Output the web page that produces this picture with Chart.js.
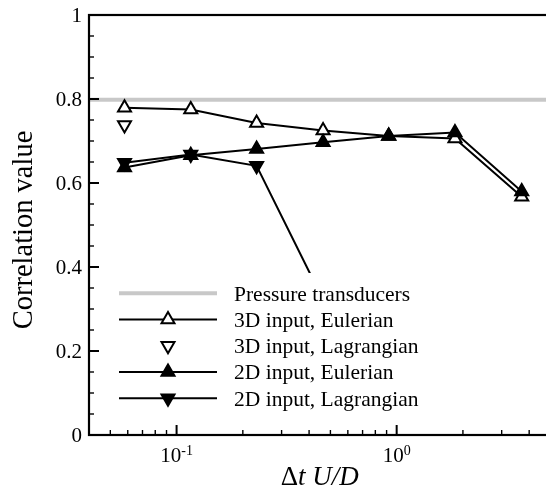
<!DOCTYPE html>
<html>
<head>
<meta charset="utf-8">
<script src="https://cdn.jsdelivr.net/npm/chart.js@4/dist/chart.umd.min.js"></script>
<style>
  html, body { margin: 0; padding: 0; overflow: hidden; background: #fff; width: 546px; height: 489px; }
  canvas { display: block; }
</style>
</head>
<body>
<canvas id="corr" width="560" height="489"></canvas>
<script>
// Time separation of the two snapshots, normalised
const dtU = [0.058, 0.116, 0.231, 0.463, 0.92, 1.84, 3.7];

// Correlation values per reconstruction
const eulerian3D   = [0.779, 0.775, 0.743, 0.725, 0.712, 0.706, 0.567];
const lagrangian3D = [0.738];
const eulerian2D   = [0.637, 0.666, 0.681, 0.697, 0.712, 0.720, 0.580];
const lagrangian2D = [0.648, 0.668, 0.641, 0.322];

// Reference level from the wall pressure transducers
const transducerLevel = 0.798;

// Axis ranges and ticks
const xRange = [0.04, 5];
const yRange = [0, 1];
const yMajorTicks = [0, 0.2, 0.4, 0.6, 0.8, 1];
const yTickLabels = ['0', '0.2', '0.4', '0.6', '0.8', '1'];
const yMinorTicks = [0.05, 0.1, 0.15, 0.25, 0.3, 0.35, 0.45, 0.5, 0.55, 0.65, 0.7, 0.75, 0.85, 0.9, 0.95];
const xMajorTicks = [0.1, 1];
const xTickExponents = ['-1', '0'];
const xMinorTicks = [0.05, 0.06, 0.07, 0.08, 0.09, 0.2, 0.3, 0.4, 0.5, 0.6, 0.7, 0.8, 0.9, 2, 3, 4];

const seriesNames = [
  'Pressure transducers',
  '3D input, Eulerian',
  '3D input, Lagrangian',
  '2D input, Eulerian',
  '2D input, Lagrangian'
];
const xTitleUpright = 'Δ';
const xTitleItalic = 't U/D';
const yTitle = 'Correlation value';

const SERIF = '"Liberation Serif", "Times New Roman", serif';
const GREY = '#c8c8c8';
const MARKER_R = 7.5;

const toPoints = (vals) => vals.map((v, i) => ({ x: dtU[i], y: v }));

// Marker styles shared by the plot and the key
const markers = [
  null,
  { rotation: 0,   fill: '#ffffff' },
  { rotation: 180, fill: '#ffffff' },
  { rotation: 0,   fill: '#000000' },
  { rotation: 180, fill: '#000000' }
];

function markerDataset(label, values, mk, order, showLine) {
  return {
    label,
    data: toPoints(values),
    showLine,
    borderColor: '#000',
    borderWidth: 2,
    tension: 0,
    pointStyle: 'triangle',
    pointRotation: mk.rotation,
    pointRadius: MARKER_R,
    pointHoverRadius: MARKER_R,
    pointBackgroundColor: mk.fill,
    pointBorderColor: '#000',
    pointBorderWidth: 2,
    order
  };
}

function triangle(ctx, x, y, r, rotationDeg) {
  let rad = rotationDeg * Math.PI / 180;
  ctx.beginPath();
  for (let k = 0; k < 3; k++) {
    const px = x + Math.sin(rad) * r;
    const py = y - Math.cos(rad) * r;
    if (k === 0) ctx.moveTo(px, py); else ctx.lineTo(px, py);
    rad += 2 * Math.PI / 3;
  }
  ctx.closePath();
}

function tick(ctx, x1, y1, x2, y2, w) {
  ctx.lineWidth = w;
  ctx.beginPath();
  ctx.moveTo(x1, y1);
  ctx.lineTo(x2, y2);
  ctx.stroke();
}

// Key drawn inside the plot on a white panel
const keyPanel = {
  id: 'keyPanel',
  afterDatasetsDraw(chart) {
    const ctx = chart.ctx;
    const a = chart.chartArea;
    ctx.save();
    ctx.fillStyle = '#fff';
    ctx.fillRect(a.left + 22, a.top + 258, 312, 142);
    const x0 = a.left + 30, x1 = a.left + 128, xm = a.left + 79, xt = a.left + 145;
    seriesNames.forEach((name, i) => {
      const y = a.top + 278.3 + i * 26.25;
      if (i === 0) {
        ctx.strokeStyle = GREY;
        tick(ctx, x0, y, x1, y, 4);
      } else if (i !== 2) {
        ctx.strokeStyle = '#000';
        tick(ctx, x0, y, x1, y, 2);
      }
      const mk = markers[i];
      if (mk) {
        ctx.fillStyle = mk.fill;
        ctx.strokeStyle = '#000';
        ctx.lineWidth = 2;
        triangle(ctx, xm, y, MARKER_R, mk.rotation);
        ctx.fill();
        ctx.stroke();
      }
      ctx.fillStyle = '#000';
      ctx.font = '21.5px ' + SERIF;
      ctx.textAlign = 'left';
      ctx.textBaseline = 'alphabetic';
      ctx.fillText(name, xt, y + 7.4);
    });
    ctx.restore();
  }
};

// Frame, inward ticks, tick labels and axis titles
const frameAndAxes = {
  id: 'frameAndAxes',
  afterDraw(chart) {
    const ctx = chart.ctx;
    const a = chart.chartArea;
    const xs = chart.scales.x, ys = chart.scales.y;
    ctx.save();
    ctx.strokeStyle = '#000';
    ctx.fillStyle = '#000';

    yMajorTicks.forEach(v => { const p = ys.getPixelForValue(v); tick(ctx, a.left, p, a.left + 10, p, 2); });
    yMinorTicks.forEach(v => { const p = ys.getPixelForValue(v); tick(ctx, a.left, p, a.left + 5, p, 1.4); });
    xMajorTicks.forEach(v => { const p = xs.getPixelForValue(v); tick(ctx, p, a.bottom, p, a.bottom - 10, 2); });
    xMinorTicks.forEach(v => { const p = xs.getPixelForValue(v); tick(ctx, p, a.bottom, p, a.bottom - 5, 1.4); });

    ctx.lineWidth = 2.2;
    ctx.strokeRect(a.left, a.top, a.right - a.left, a.bottom - a.top);

    // y tick labels
    ctx.font = '21px ' + SERIF;
    ctx.textAlign = 'right';
    ctx.textBaseline = 'middle';
    yMajorTicks.forEach((v, i) => {
      ctx.fillText(yTickLabels[i], a.left - 7, ys.getPixelForValue(v) + 1);
    });

    // x tick labels: powers of ten with raised exponent
    ctx.textAlign = 'left';
    ctx.textBaseline = 'alphabetic';
    xMajorTicks.forEach((v, i) => {
      const p = xs.getPixelForValue(v);
      ctx.font = '21px ' + SERIF;
      const wBase = ctx.measureText('10').width;
      ctx.font = '14px ' + SERIF;
      const wExp = ctx.measureText(xTickExponents[i]).width;
      const start = p - (wBase + wExp) / 2;
      ctx.font = '21px ' + SERIF;
      ctx.fillText('10', start, a.bottom + 27);
      ctx.font = '14px ' + SERIF;
      ctx.fillText(xTickExponents[i], start + wBase, a.bottom + 20);
    });

    // x title
    ctx.font = '27px ' + SERIF;
    const wUp = ctx.measureText(xTitleUpright).width;
    ctx.font = 'italic 27px ' + SERIF;
    const wIt = ctx.measureText(xTitleItalic).width;
    const cx = (a.left + a.right) / 2;
    const sx = cx - (wUp + wIt) / 2;
    ctx.font = '27px ' + SERIF;
    ctx.fillText(xTitleUpright, sx, a.bottom + 50);
    ctx.font = 'italic 27px ' + SERIF;
    ctx.fillText(xTitleItalic, sx + wUp, a.bottom + 50);

    // y title
    ctx.translate(31.5, a.top + 215);
    ctx.rotate(-Math.PI / 2);
    ctx.font = '28.5px ' + SERIF;
    ctx.textAlign = 'center';
    ctx.fillText(yTitle, 0, 0);
    ctx.restore();
  }
};

new Chart(document.getElementById('corr'), {
  type: 'scatter',
  data: {
    datasets: [
      {
        label: seriesNames[0],
        data: [{ x: xRange[0], y: transducerLevel }, { x: xRange[1], y: transducerLevel }],
        showLine: true,
        borderColor: GREY,
        borderWidth: 4,
        pointRadius: 0,
        pointHoverRadius: 0,
        order: 5
      },
      markerDataset(seriesNames[1], eulerian3D, markers[1], 3, true),
      markerDataset(seriesNames[2], lagrangian3D, markers[2], 4, false),
      markerDataset(seriesNames[3], eulerian2D, markers[3], 1, true),
      markerDataset(seriesNames[4], lagrangian2D, markers[4], 2, true)
    ]
  },
  options: {
    responsive: false,
    animation: false,
    devicePixelRatio: 1,
    events: [],
    layout: { padding: { top: 15, right: 9.5, left: 0, bottom: 0 } },
    plugins: { legend: { display: false }, tooltip: { enabled: false }, title: { display: false } },
    scales: {
      x: {
        type: 'logarithmic',
        min: xRange[0],
        max: xRange[1],
        grid: { display: false },
        border: { display: false },
        ticks: { display: false },
        afterFit(scale) { scale.height = 54; }
      },
      y: {
        type: 'linear',
        min: yRange[0],
        max: yRange[1],
        grid: { display: false },
        border: { display: false },
        ticks: { display: false },
        afterFit(scale) { scale.width = 89; }
      }
    }
  },
  plugins: [keyPanel, frameAndAxes]
});
</script>
</body>
</html>
